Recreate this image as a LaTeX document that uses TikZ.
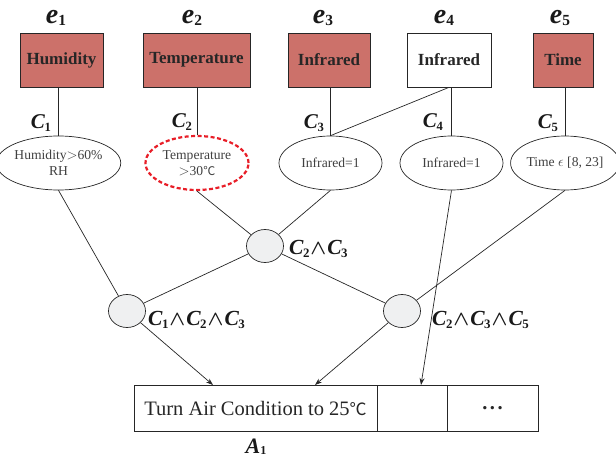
\documentclass[tikz,border=0pt]{standalone}
\usepackage{fontspec}
\setmainfont{Liberation Serif}
\newfontfamily\cjk{Noto Sans CJK SC}
\usetikzlibrary{arrows.meta,shapes.geometric}
\definecolor{boxred}{RGB}{204,113,106}
\definecolor{dashred}{RGB}{232,30,40}
\definecolor{joingray}{RGB}{239,240,241}
\newcommand{\sublbl}[3]{{\fontsize{#3}{#3}\selectfont\bfseries\itshape #1}\raisebox{-0.3ex}{\fontsize{0.55\dimexpr#3pt\relax}{10}\selectfont\bfseries #2}}
\newcommand{\cvar}[1]{{\bfseries\itshape C}\kern-0.5pt\raisebox{-0.35ex}{\scalebox{0.6}{\bfseries #1}}}
\newcommand{\cand}{\kern1pt{\boldmath$\wedge$}\kern1pt}
\begin{document}
\begin{tikzpicture}[x=1pt,y=-1pt,
  box/.style={draw=black!85, line width=0.7pt, minimum height=54pt, inner sep=0pt, font=\fontsize{17}{19}\selectfont\bfseries, text=black!85},
  hot/.style={box, fill=boxred},
  cond/.style={ellipse, draw=black!85, line width=0.7pt, minimum width=103pt, minimum height=54pt, inner sep=0pt, align=center, font=\fontsize{13.6}{16}\selectfont, text=black!75},
  joinnode/.style={ellipse, draw=black!85, line width=0.7pt, fill=joingray, minimum width=37pt, minimum height=33pt, inner sep=0pt},
  cell/.style={draw=black!85, line width=0.7pt, minimum height=46pt, inner sep=0pt, font=\fontsize{20.5}{22}\selectfont, text=black!85},
  wire/.style={line width=0.7pt, draw=black!85},
  arr/.style={wire, -{Stealth[length=7pt,width=5pt]}},
  elbl/.style={inner sep=0pt, text=black!90},
  clbl/.style={inner sep=0pt, font=\fontsize{21}{21}\selectfont, text=black!90},
  jlbl/.style={inner sep=0pt, font=\fontsize{21.5}{21.5}\selectfont, text=black!90, anchor=west}
]
\useasboundingbox (0,0) rectangle (616,460);

% event boxes
\node[hot, minimum width=83pt] (b1) at (61.5,60) {Humidity};
\node[hot, minimum width=107pt] (b2) at (196.5,60) {Temperature};
\node[hot, minimum width=82pt] (b3) at (329,60) {Infrared};
\node[box, minimum width=84pt] (b4) at (449,60) {Infrared};
\node[hot, minimum width=60pt] (b5) at (563,60) {Time};

% e labels
\node[elbl] (e1) at (56,18) {\sublbl{e}{1}{28}};
\node[elbl] (e2) at (192,18) {\sublbl{e}{2}{28}};
\node[elbl] (e3) at (323,18) {\sublbl{e}{3}{28}};
\node[elbl] (e4) at (444,18) {\sublbl{e}{4}{28}};
\node[elbl] (e5) at (560,18) {\sublbl{e}{5}{28}};

% condition ellipses
\node[cond] (c1) at (58.5,163) {Humidity$>$60\%\\RH};
\node[cond, draw=dashred, line width=2.2pt, dash pattern=on 4pt off 2.5pt] (c2) at (197,163) {Temperature\\$>$30{\cjk\fontsize{12}{14}\selectfont ℃}};
\node[cond] (c3) at (330.5,163) {Infrared=1};
\node[cond] (c4) at (451.5,163) {Infrared=1};
\node[cond, minimum width=101pt] (c5) at (565,163) {Time $\epsilon$ [8, 23]};

% box to condition wires
\draw[wire] (c1.north) -- (c1.north |- b1.south);
\draw[wire] (c2.north) -- (c2.north |- b2.south);
\draw[wire] (c3.north) -- (c3.north |- b3.south);
\draw[wire] (c4.north) -- (c4.north |- b4.south);
\draw[wire] (c5.north) -- (c5.north |- b5.south);
\draw[wire] (b4.south) -- (c3.north);

% C labels
\node[clbl, anchor=east] (l1) at (51,123) {\cvar{1}};
\node[clbl, anchor=east] (l2) at (192,122) {\cvar{2}};
\node[clbl, anchor=east] (l3) at (324,123) {\cvar{3}};
\node[clbl, anchor=east] (l4) at (443,122) {\cvar{4}};
\node[clbl, anchor=east] (l5) at (558,123) {\cvar{5}};

% join nodes
\node[joinnode] (n23) at (265,246) {};
\node[joinnode] (n123) at (127,311) {};
\node[joinnode] (n235) at (402,311) {};

\node[jlbl] (j23) at (289,249) {\cvar{2}\cand\cvar{3}};
\node[jlbl] (j123) at (148,320) {\cvar{1}\cand\cvar{2}\cand\cvar{3}};
\node[jlbl] (j235) at (432,320) {\cvar{2}\cand\cvar{3}\cand\cvar{5}};

\draw[wire] (c1.south) -- (n123);
\draw[wire] (c2.south) -- (n23);
\draw[wire] (c3.south) -- (n23);
\draw[wire] (n23) -- (n123);
\draw[wire] (n23) -- (n235);
\draw[wire] (c5.south) -- (n235);

% action row
\node[cell, minimum width=243pt] (a1) at (255.5,408) {Turn Air Condition to 25{\cjk\fontsize{17}{19}\selectfont ℃}};
\node[cell, minimum width=70pt] (a2) at (412,408) {};
\node[cell, minimum width=91pt] (a3) at (492.5,408) {\raisebox{-0.4ex}{\bfseries .\kern2.5pt.\kern2.5pt.}};
\node[inner sep=0pt, text=black!90] (alab) at (256,447) {\sublbl{A}{1}{22}};

\coordinate (t1) at (213,385);
\coordinate (t2) at (315,385);
\coordinate (t3) at (421,385);
\draw[arr] (n123) -- (t1);
\draw[arr] (n235) -- (t2);
\draw[arr] (c4.south) -- (t3);
\end{tikzpicture}
\end{document}
